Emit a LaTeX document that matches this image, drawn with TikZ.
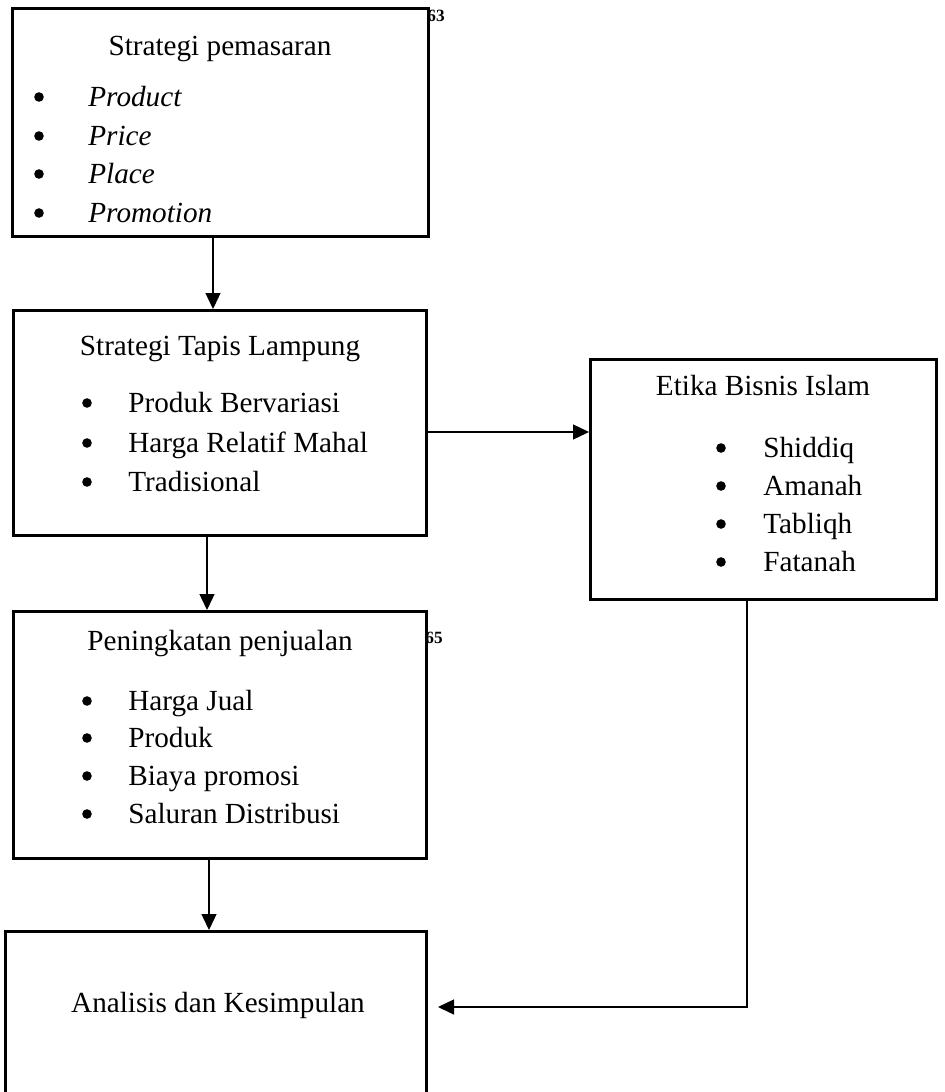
\documentclass[tikz,border=0pt]{standalone}
\usepackage{fontspec}
\setmainfont{Liberation Serif}
\usetikzlibrary{arrows.meta}
\tikzset{
  box/.style={draw, line width=1.5pt, fill=white, rectangle, inner sep=0pt},
  txt/.style={inner sep=0pt, font=\fontsize{14.6pt}{17pt}\selectfont},
  itm/.style={txt, anchor=base west},
  ttl/.style={txt, anchor=base},
  itx/.style={itm, font=\fontsize{14.6pt}{17pt}\selectfont\itshape},
  pgno/.style={inner sep=0pt, anchor=base west, font=\fontsize{8.6pt}{9pt}\selectfont\bfseries},
  dot/.style={fill=black},
  arr/.style={line width=0.65pt, -{Triangle[length=8pt,width=7.5pt]}},
}
\begin{document}
\begin{tikzpicture}[x=0.5pt,y=-0.5pt]
\useasboundingbox (0,0) rectangle (944,1092);
\clip (0,0) rectangle (944,1092);
% page numbers (partly hidden by the boxes)
\node[pgno] (p63) at (427,21) {63};
\node[pgno] (p65) at (425,643) {65};
% boxes
\node[box, minimum width=208pt, minimum height=114pt] (b1) at (220.5,122.5) {};
\node[box, minimum width=206.5pt, minimum height=112.5pt] (b2) at (220,423) {};
\node[box, minimum width=173pt, minimum height=120pt] (b3) at (763.5,479.5) {};
\node[box, minimum width=206.5pt, minimum height=123.5pt] (b4) at (220,735) {};
\node[box, minimum width=210.5pt, minimum height=93.5pt] (b5) at (216,1025) {};
% box 1
\node[ttl] (t1) at (220,55) {Strategi pemasaran};
\foreach \y/\t [count=\i] in {106/Product,145/Price,183/Place,222/Promotion}{
  \fill[dot] (39,\y-9) circle (2.4pt);
  \node[itx] (t1i\i) at (88,\y) {\t};
}
% box 2
\node[ttl] (t2) at (220,355) {Strategi Tapis Lampung};
\foreach \y/\t [count=\i] in {412/Produk Bervariasi,452/Harga Relatif Mahal,491/Tradisional}{
  \fill[dot] (87,\y-9) circle (2.4pt);
  \node[itm] (t2i\i) at (128,\y) {\t};
}
% box 3
\node[ttl] (t3) at (763,395) {Etika Bisnis Islam};
\foreach \y/\t [count=\i] in {457/Shiddiq,495/Amanah,533/Tabliqh,571/Fatanah}{
  \fill[dot] (721,\y-9) circle (2.4pt);
  \node[itm] (t3i\i) at (763,\y) {\t};
}
% box 4
\node[ttl] (t4) at (220,650) {Peningkatan penjualan};
\foreach \y/\t [count=\i] in {710/Harga Jual,747/Produk,785/Biaya promosi,823/Saluran Distribusi}{
  \fill[dot] (87,\y-9) circle (2.4pt);
  \node[itm] (t4i\i) at (128,\y) {\t};
}
% box 5
\node[ttl] (t5) at (218,1012) {Analisis dan Kesimpulan};
% connectors
\draw[arr] (b1.south -| 213,0) -- (b2.north -| 213,0);
\draw[arr] (b2.south -| 207,0) -- (b4.north -| 207,0);
\draw[arr] (b4.south -| 209,0) -- (b5.north -| 209,0);
\draw[arr] (b2.east |- 0,432) -- (b3.west |- 0,432);
\coordinate (e5) at (438,1007);
\draw[arr] (b3.south -| 747,0) |- (e5);
\end{tikzpicture}
\end{document}
